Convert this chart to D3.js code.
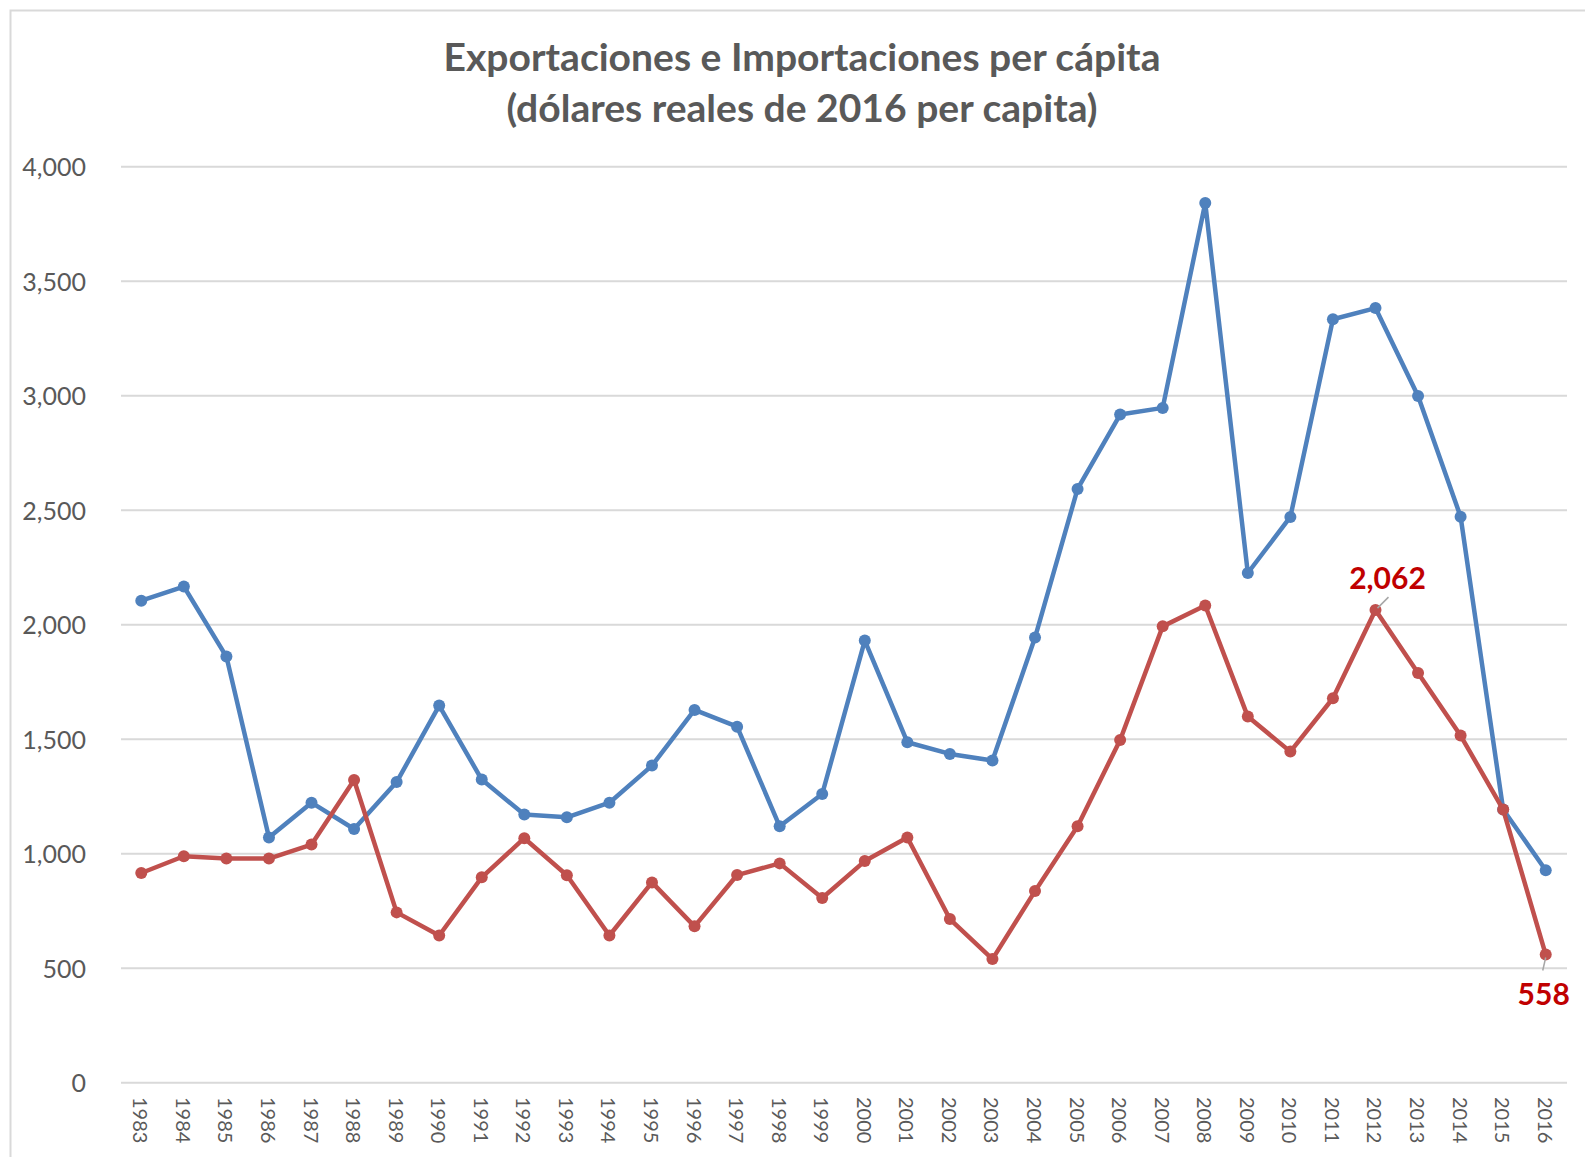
<!DOCTYPE html>
<html>
<head>
<meta charset="utf-8">
<script src="https://cdn.jsdelivr.net/npm/d3@7"></script>
<style>
  html, body { margin: 0; padding: 0; background: #fff; }
  svg { display: block; }
  .grid line { stroke: #d9d9d9; stroke-width: 2; }
  .grid .domain { display: none; }
  .ylab text { font-family: Lato, "Open Sans", sans-serif; font-size: 25px; fill: #595959; }
  .xlab text { font-family: Lato, "Open Sans", sans-serif; font-size: 20px; fill: #595959; }
</style>
</head>
<body>
<svg id="chart" width="1585" height="1157"></svg>
<script>
// data
const years = d3.range(1983, 2017);
const exportaciones = [2103, 2165, 1859, 1069, 1221, 1106, 1311, 1645, 1322, 1169, 1157, 1221, 1383, 1626, 1553, 1118, 1259, 1929, 1485, 1434, 1405, 1942, 2591, 2916, 2945, 3840, 2224, 2469, 3332, 3381, 2997, 2470, 1191, 926];
const importaciones = [914, 987, 977, 977, 1038, 1320, 742, 641, 895, 1066, 904, 641, 873, 681, 905, 956, 805, 966, 1069, 713, 538, 835, 1118, 1495, 1991, 2082, 1597, 1444, 1677, 2062, 1787, 1514, 1191, 558];
const yTicks = [0, 500, 1000, 1500, 2000, 2500, 3000, 3500, 4000];
const titleLines = ["Exportaciones e Importaciones per cápita", "(dólares reales de 2016 per capita)"];
const labelled = [2012, 2016]; // data labels shown on the red series

const svg = d3.select("#chart");

// chart frame
svg.append("rect")
  .attr("x", 10.5).attr("y", 10.5)
  .attr("width", 1700).attr("height", 1300)
  .attr("fill", "none").attr("stroke", "#d9d9d9").attr("stroke-width", 2);

const x = d3.scaleBand().domain(years).range([120, 1567]).padding(0);
const y = d3.scaleLinear().domain([0, 4000]).range([1082.3, 166.3]);
const cx = d => x(d) + x.bandwidth() / 2;

// ----------------------------
// GRID + AXES
// ----------------------------
svg.append("g").attr("class", "grid")
  .attr("transform", "translate(1567,0)")
  .call(d3.axisLeft(y).tickValues(yTicks).tickSize(1567 - 121).tickFormat(""));

svg.append("g").attr("class", "ylab")
  .selectAll("text")
  .data(yTicks)
  .join("text")
  .attr("x", 86)
  .attr("y", d => y(d))
  .attr("text-anchor", "end")
  .attr("dominant-baseline", "central")
  .text(d3.format(","));

svg.append("g").attr("class", "xlab")
  .selectAll("text")
  .data(years)
  .join("text")
  .attr("transform", d => `translate(${cx(d)},1097) rotate(90)`)
  .attr("dominant-baseline", "central")
  .text(d => d);

// ----------------------------
// TITLE
// ----------------------------
const title = svg.append("g")
  .attr("font-family", "Lato, 'Open Sans', sans-serif")
  .attr("font-weight", 700)
  .attr("fill", "#595959")
  .attr("text-anchor", "middle");

const t1 = title.append("text").attr("x", 802).attr("y", 71).attr("font-size", 36).text(titleLines[0]);
const fs = 36 * 717 / t1.node().getComputedTextLength();
t1.attr("font-size", fs);
title.append("text").attr("x", 802).attr("y", 122).attr("font-size", fs).text(titleLines[1]);

// ----------------------------
// SERIES
// ----------------------------
const line = d3.line().x((d, i) => cx(years[i])).y(d => y(d));

const series = [
  { values: exportaciones, color: "#4f81bd" },
  { values: importaciones, color: "#c0504d" }
];

series.forEach(s => {
  svg.append("path")
    .datum(s.values)
    .attr("fill", "none")
    .attr("stroke", s.color)
    .attr("stroke-width", 4.5)
    .attr("stroke-linejoin", "round")
    .attr("d", line);

  svg.append("g")
    .selectAll("circle")
    .data(s.values)
    .join("circle")
    .attr("cx", (d, i) => cx(years[i]))
    .attr("cy", d => y(d))
    .attr("r", 6)
    .attr("fill", s.color);
});

// ----------------------------
// DATA LABELS
// ----------------------------
const fmt = d3.format(",");
labelled.forEach(yr => {
  const i = years.indexOf(yr);
  const v = importaciones[i];
  const px = cx(yr), py = y(v);
  const above = yr === 2012;
  svg.append("line")
    .attr("x1", px + (above ? 2 : 0)).attr("y1", py + (above ? -2 : 3))
    .attr("x2", px + (above ? 13 : -3)).attr("y2", py + (above ? -13 : 16))
    .attr("stroke", "#a6a6a6").attr("stroke-width", 1.5);
  svg.append("text")
    .attr("x", above ? px + 12 : px - 2)
    .attr("y", above ? py - 21 : py + 50)
    .attr("text-anchor", "middle")
    .attr("font-family", "Lato, 'Open Sans', sans-serif")
    .attr("font-weight", 700)
    .attr("font-size", 30)
    .attr("fill", "#c00000")
    .text(fmt(v));
});
</script>
</body>
</html>
